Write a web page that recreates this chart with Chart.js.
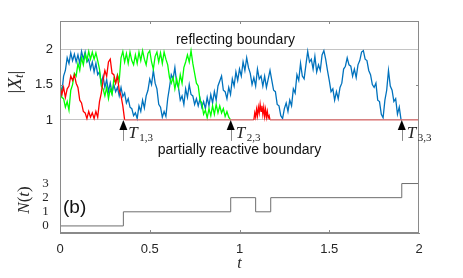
<!DOCTYPE html>
<html lang="en">
<head>
<meta charset="UTF-8">
<title>Reflected Brownian paths and N(t)</title>
<script src="https://cdn.jsdelivr.net/npm/chart.js"></script>
<style>
    body { margin: 0; background: #fff; }
    #chart { display: block; }
</style>
</head>
<body>
<canvas id="chart" width="463" height="278"></canvas>
<script>
    // sampling step of the paths (t units)
    const dt = 0.01;

    // |X_t| of the three particles
    const blueX = [
        1.50, 1.38, 1.62, 1.70, 1.88, 1.80, 1.95, 1.84, 1.93, 1.82,
        1.92, 1.80, 1.97, 1.86, 1.96, 1.82, 1.86, 1.72, 1.82, 1.68,
        1.80, 1.64, 1.68, 1.52, 1.62, 1.46, 1.57, 1.40, 1.52, 1.38,
        1.50, 1.40, 1.46, 1.34, 1.46, 1.33, 1.38, 1.24, 1.30, 1.18,
        1.16, 1.06, 1.10, 1.02, 1.20, 1.12, 1.28, 1.17, 1.34, 1.42,
        1.58, 1.50, 1.70, 1.52, 1.44, 1.22, 1.18, 1.04, 1.12, 1.05,
        1.30, 1.46, 1.64, 1.58, 1.74, 1.52, 1.46, 1.28, 1.34, 1.22,
        1.44, 1.32, 1.50, 1.36, 1.34, 1.22, 1.30, 1.20, 1.30, 1.18,
        1.26, 1.16, 1.32, 1.20, 1.36, 1.24, 1.40, 1.28, 1.48, 1.55,
        1.62, 1.42, 1.40, 1.30, 1.46, 1.36, 1.58, 1.48, 1.68, 1.56,
        1.72, 1.62, 1.82, 1.70, 1.88, 1.74, 1.66, 1.50, 1.60, 1.48,
        1.72, 1.58, 1.62, 1.48, 1.62, 1.46, 1.58, 1.70, 1.56, 1.42,
        1.40, 1.22, 1.20, 1.06, 1.02, 1.16, 1.24, 1.12, 1.28, 1.20,
        1.44, 1.38, 1.64, 1.56, 1.80, 1.62, 1.58, 1.78, 1.97, 1.82,
        1.86, 1.72, 1.90, 1.68, 1.78, 1.70, 1.92, 1.98, 1.86, 1.70,
        1.56, 1.40, 1.44, 1.28, 1.40, 1.30, 1.46, 1.52, 1.72, 1.76,
        1.88, 1.78, 1.76, 1.62, 1.72, 1.60, 1.78, 1.84, 1.96, 1.98,
        1.86, 1.84, 1.70, 1.64, 1.50, 1.46, 1.52, 1.28, 1.26, 1.08,
        1.03, 1.28, 1.42, 1.70, 1.48, 1.42, 1.26, 1.30, 1.08, 1.18, 1.00
    ];
    const greenX = [
        1.55, 1.32, 1.30, 1.18, 1.26, 1.14, 1.42, 1.50, 1.66, 1.62,
        1.80, 1.70, 1.88, 1.78, 1.93, 1.84, 1.97, 1.86, 1.96, 1.86,
        1.95, 1.84, 1.72, 1.48, 1.44, 1.34, 1.46, 1.30, 1.44, 1.36,
        1.58, 1.52, 1.64, 1.56, 1.88, 1.97, 1.82, 1.94, 1.80, 1.96,
        1.84, 1.78, 1.92, 1.80, 1.96, 1.84, 1.98, 1.86, 1.78, 1.94,
        1.98, 1.82, 1.72, 1.90, 1.96, 1.82, 1.95, 1.80, 1.96, 1.86,
        1.78, 1.60, 1.52, 1.60, 1.44, 1.58, 1.46, 1.64, 1.52, 1.74,
        1.82, 1.92, 1.82, 1.98, 1.80, 1.66, 1.52, 1.48, 1.28, 1.24,
        1.08, 1.14, 1.03, 1.16, 1.06, 1.20, 1.08, 1.22, 1.10, 1.20,
        1.10, 1.16, 1.05, 1.12, 1.04, 1.00
    ];
    const redX = [
        1.48, 1.36, 1.46, 1.32, 1.44, 1.48, 1.62, 1.56, 1.64, 1.52,
        1.46, 1.28, 1.24, 1.12, 1.10, 1.02, 1.12, 1.04, 1.10, 1.02,
        1.12, 1.04, 1.26, 1.38, 1.56, 1.70, 1.62, 1.82, 1.86, 1.66,
        1.64, 1.52, 1.62, 1.42, 1.34, 1.20, 1.00
    ];
    // red particle leaves the reactive boundary for a short while
    const redBumpStart = 1.08;
    const redBumpStep = 0.005;
    const redBump = [
        1.00, 1.10, 1.04, 1.15, 1.06, 1.18, 1.10, 1.22, 1.12, 1.20,
        1.08, 1.18, 1.05, 1.15, 1.04, 1.12, 1.03, 1.06, 1.00
    ];

    // counting process N(t)
    const nTimes = [0, 0.353, 0.951, 1.09, 1.174, 1.904, 2];
    const nCounts = [0, 1, 2, 1, 2, 3, 3];

    // first passage times T_{k,3}
    const absorbTimes = [0.353, 0.951, 1.904];
    const absorbLabels = ["1,3", "2,3", "3,3"];

    const xTicks = [0, 0.5, 1, 1.5, 2];
    const yTicks = [1, 1.5, 2];
    const nTicks = [0, 1, 2, 3];
    const reflectingLevel = 2;
    const reactiveLevel = 1;

    const tMax = 2;
    const yMin = -0.6, yMax = 2.4;
    const nMin = -0.5, nMax = 14.5;

    function nToY(n) {
        return yMin + (n - nMin) / (nMax - nMin) * (yMax - yMin);
    }

    function sampled(values, start, step) {
        return values.map((v, i) => ({ x: start + i * step, y: v }));
    }

    const redBumpEnd = redBumpStart + (redBump.length - 1) * redBumpStep;
    const redData = sampled(redX, 0, dt)
        .concat([{ x: redBumpStart, y: reactiveLevel }])
        .concat(sampled(redBump, redBumpStart, redBumpStep))
        .concat([{ x: redBumpEnd, y: reactiveLevel }, { x: tMax, y: reactiveLevel }]);
    const greenData = sampled(greenX, 0, dt);
    const blueData = sampled(blueX, 0, dt);
    const nData = nTimes.map((t, i) => ({ x: t, y: nCounts[i] }));

    const sans = "'Liberation Sans', Arial, sans-serif";
    const serif = "'Liberation Serif', 'Times New Roman', serif";
    const ink = "#262626";
    const boxColor = "#8a8a8a";

    const onBoundary = (ctx) =>
        ctx.p0.parsed.y === reactiveLevel && ctx.p1.parsed.y === reactiveLevel;

    const decorations = {
        id: "decorations",
        afterDatasetsDraw(chart) {
            const { ctx, chartArea: a, scales } = chart;
            const x = scales.x, y = scales.y;
            ctx.save();

            // frame and inside ticks
            ctx.strokeStyle = boxColor;
            ctx.lineWidth = 1;
            ctx.strokeRect(Math.round(a.left) + 0.5, Math.round(a.top) + 0.5,
                Math.round(a.right - a.left) - 1, Math.round(a.bottom - a.top) - 1);
            ctx.beginPath();
            xTicks.slice(1, -1).forEach(t => {
                const px = Math.round(x.getPixelForValue(t)) + 0.5;
                ctx.moveTo(px, a.top); ctx.lineTo(px, a.top + 3);
                ctx.moveTo(px, a.bottom); ctx.lineTo(px, a.bottom - 3);
            });
            const py15 = Math.round(y.getPixelForValue(1.5)) + 0.5;
            ctx.moveTo(a.left, py15); ctx.lineTo(a.left + 3, py15);
            ctx.moveTo(a.right, py15); ctx.lineTo(a.right - 3, py15);
            ctx.stroke();

            // arrows at the absorption times
            const yb = y.getPixelForValue(reactiveLevel);
            absorbTimes.forEach((t, i) => {
                const px = x.getPixelForValue(t);
                ctx.strokeStyle = "#8a8a8a";
                ctx.beginPath();
                ctx.moveTo(Math.round(px) + 0.5, yb + 9);
                ctx.lineTo(Math.round(px) + 0.5, yb + 21);
                ctx.stroke();
                ctx.fillStyle = "#000";
                ctx.beginPath();
                ctx.moveTo(px, yb);
                ctx.lineTo(px - 4, yb + 10);
                ctx.lineTo(px + 4, yb + 10);
                ctx.closePath();
                ctx.fill();
                ctx.fillStyle = ink;
                ctx.textAlign = "left";
                ctx.textBaseline = "alphabetic";
                ctx.font = "italic 17px " + serif;
                ctx.fillText("T", px + 5, yb + 18);
                ctx.font = "11px " + serif;
                ctx.fillText(absorbLabels[i], px + 16, yb + 21);
            });

            // boundary captions
            ctx.fillStyle = "#111";
            ctx.textAlign = "center";
            ctx.textBaseline = "middle";
            ctx.font = "14px " + sans;
            ctx.fillText("reflecting boundary", x.getPixelForValue(1) - 4, y.getPixelForValue(reflectingLevel) - 9);
            ctx.fillText("partially reactive boundary", x.getPixelForValue(1), yb + 30);

            // panel tag
            ctx.textAlign = "left";
            ctx.font = "19px " + sans;
            ctx.fillText("(b)", a.left + 3, a.bottom - 25);

            // axis titles
            ctx.fillStyle = ink;
            ctx.font = "italic 16px " + serif;
            ctx.textAlign = "center";
            ctx.fillText("t", x.getPixelForValue(1), a.bottom + 31);

            drawVertical(ctx, 16, 82, [
                ["|", "19px " + serif, 0],
                ["X", "italic 19px " + serif, 0],
                ["t", "italic 13px " + serif, 4],
                ["|", "19px " + serif, 0]
            ]);
            drawVertical(ctx, 25, 200, [
                ["N", "italic 17px " + serif, 0],
                ["(", "17px " + serif, 0],
                ["t", "italic 17px " + serif, 0],
                [")", "17px " + serif, 0]
            ]);
            ctx.restore();
        }
    };

    // rotated title made of pieces [text, font, baseline shift]
    function drawVertical(ctx, cx, cy, pieces) {
        ctx.save();
        ctx.translate(cx, cy);
        ctx.rotate(-Math.PI / 2);
        ctx.textAlign = "left";
        ctx.textBaseline = "middle";
        let total = 0;
        pieces.forEach(p => { ctx.font = p[1]; total += ctx.measureText(p[0]).width; });
        let pos = -total / 2;
        pieces.forEach(p => {
            ctx.font = p[1];
            ctx.fillText(p[0], pos, p[2]);
            pos += ctx.measureText(p[0]).width;
        });
        ctx.restore();
    }

    const pathLine = (color) => ({
        borderColor: color,
        borderWidth: 1.3,
        pointRadius: 0,
        tension: 0,
        fill: false,
        yAxisID: "y"
    });

    new Chart(document.getElementById("chart"), {
        type: "line",
        data: {
            datasets: [
                Object.assign({ label: "particle 1", data: redData,
                    segment: { borderColor: ctx => onBoundary(ctx) ? "#dc6a6a" : undefined } }, pathLine("#ff0000")),
                Object.assign({ label: "particle 2", data: greenData }, pathLine("#00ff00")),
                Object.assign({ label: "particle 3", data: blueData }, pathLine("#0072bd")),
                {
                    label: "N(t)",
                    data: nData,
                    yAxisID: "n",
                    stepped: true,
                    borderColor: "#6e6e6e",
                    borderWidth: 1,
                    pointRadius: 0
                }
            ]
        },
        options: {
            responsive: false,
            animation: false,
            devicePixelRatio: 1,
            layout: { padding: { top: 21, right: 44, left: 0, bottom: 0 } },
            plugins: { legend: { display: false }, tooltip: { enabled: false } },
            scales: {
                x: {
                    type: "linear",
                    min: 0,
                    max: tMax,
                    afterBuildTicks: (scale) => { scale.ticks = xTicks.map(v => ({ value: v })); },
                    afterFit: (scale) => { scale.height = 45; },
                    ticks: {
                        color: ink,
                        padding: 9,
                        maxRotation: 0,
                        font: { family: sans, size: 13 },
                        callback: (v) => String(v)
                    },
                    grid: { drawOnChartArea: false, drawTicks: false },
                    border: { display: true, color: boxColor }
                },
                y: {
                    type: "linear",
                    min: yMin,
                    max: yMax,
                    afterBuildTicks: (scale) => {
                        scale.ticks = nTicks.map(n => ({ value: nToY(n), count: n }))
                            .concat(yTicks.map(v => ({ value: v })));
                    },
                    afterFit: (scale) => { scale.width = 60; },
                    ticks: {
                        color: ink,
                        padding: 7,
                        font: (c) => (c.tick && c.tick.count !== undefined)
                            ? { family: serif, size: 13 } : { family: sans, size: 13 },
                        callback: (v, i, ticks) => ticks[i].count !== undefined
                            ? String(ticks[i].count) + "\u2004" : String(v)
                    },
                    grid: {
                        drawTicks: false,
                        color: (c) => (c.tick && c.tick.count === undefined &&
                            (c.tick.value === reflectingLevel || c.tick.value === reactiveLevel))
                            ? "#c4c4c4" : "rgba(0,0,0,0)"
                    },
                    border: { display: true, color: boxColor }
                },
                n: {
                    type: "linear",
                    display: false,
                    min: nMin,
                    max: nMax
                }
            }
        },
        plugins: [decorations]
    });
</script>
</body>
</html>
